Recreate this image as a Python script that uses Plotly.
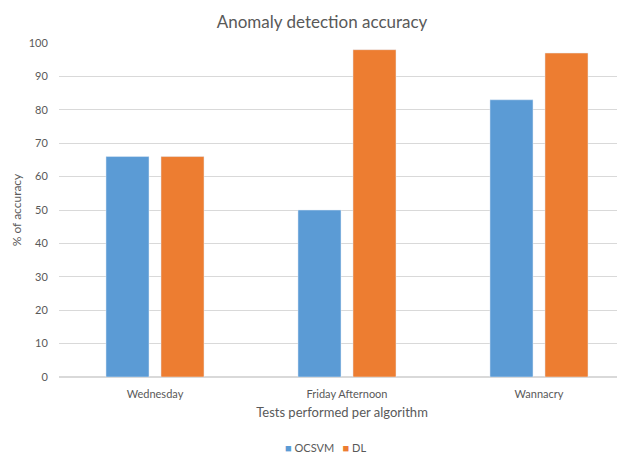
import plotly.graph_objects as go

categories = ["Wednesday", "Friday Afternoon", "Wannacry"]
ocsvm = [66, 50, 83]
dl = [66, 98, 97]
y_ticks = [0, 10, 20, 30, 40, 50, 60, 70, 80, 90, 100]

FONT = "Lato, 'Open Sans', sans-serif"
TXT = "#595959"
BLUE = "#5B9BD5"
ORANGE = "#ED7D31"

fig = go.Figure()
fig.add_trace(go.Bar(name="OCSVM", x=categories, y=ocsvm, marker_color=BLUE))
fig.add_trace(go.Bar(name="DL", x=categories, y=dl, marker_color=ORANGE))

fig.update_layout(
    width=617, height=453,
    paper_bgcolor="white", plot_bgcolor="white",
    margin=dict(l=51, r=0, t=35, b=84),
    barmode="group", bargap=0.427, bargroupgap=0.218,
    font=dict(family=FONT, color=TXT, size=11),
    title=dict(text="Anomaly detection accuracy", x=0.509, xanchor="center",
               y=0.97, yanchor="middle", font=dict(size=17, color=TXT, family=FONT)),
    showlegend=False,
    xaxis=dict(range=[-0.5, 2.448], showgrid=False, zeroline=False, showline=False,
               ticks="outside", ticklen=7, tickcolor="rgba(0,0,0,0)",
               tickfont=dict(size=11, color=TXT),
               title=dict(text="Tests performed per algorithm", font=dict(size=13, color=TXT), standoff=8)),
    yaxis=dict(range=[0, 100], tickvals=y_ticks, showgrid=True, gridcolor="#D9D9D9", gridwidth=1,
               zeroline=True, zerolinecolor="#D9D9D9", showline=False,
               ticks="outside", ticklen=8, tickcolor="rgba(0,0,0,0)",
               tickfont=dict(size=11, color=TXT),
               title=dict(text="% of accuracy", font=dict(size=12, color=TXT), standoff=4)),
)

fig.add_annotation(
    xref="paper", yref="paper", x=0.47, y=-0.21, xanchor="center", yanchor="middle",
    showarrow=False, font=dict(size=11, color=TXT, family=FONT),
    text=f"<span style='color:{BLUE}'>■</span> OCSVM   <span style='color:{ORANGE}'>■</span> DL",
)

fig.write_html("out.html")
